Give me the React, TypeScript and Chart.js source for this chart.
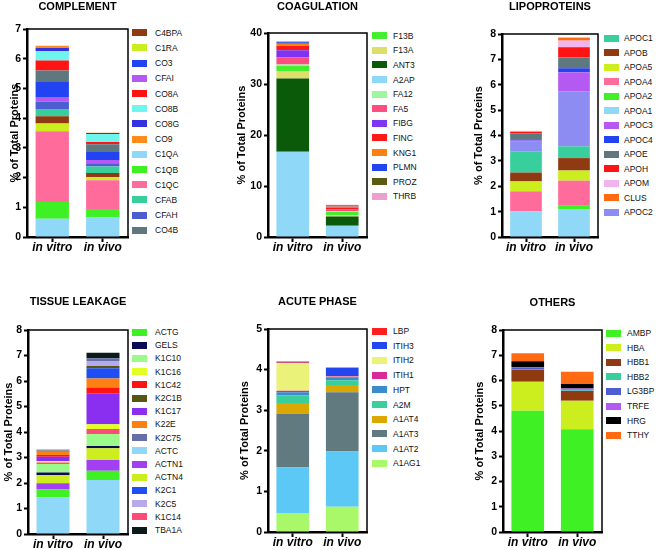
import React, { useEffect, useRef } from "react";
import { Chart, registerables } from "chart.js";
Chart.register(...registerables);

const FONT = "'Liberation Sans', Arial, Helvetica, sans-serif";

const categories = ["in vitro", "in vivo"];
const yAxisLabel = "% of Total Proteins";

// ---------- COMPLEMENT ----------
const complementProteins = ["C1QA", "C1QB", "C1QC", "C1RA", "C4BPA", "CFAB", "CFAH", "CFAI", "CO3", "CO4B", "CO8A", "CO8B", "CO8G", "CO9"];
const complementInVitro = [0.61, 0.57, 2.38, 0.26, 0.24, 0.25, 0.24, 0.16, 0.53, 0.36, 0.34, 0.31, 0.11, 0.08];
const complementInVivo = [0.66, 0.28, 0.97, 0.11, 0.13, 0.22, 0.11, 0.11, 0.27, 0.26, 0.08, 0.27, 0.03, 0.01];
const complementColors = ["#8fd8f8", "#3ef024", "#ff6b9a", "#cdee1e", "#8f3a10", "#38cf9c", "#4c5ed0", "#b45af2", "#2243f2", "#5f7880", "#ff1414", "#6ef6ee", "#3232e0", "#ff8c1a"];
const complementLegend = ["C4BPA", "C1RA", "CO3", "CFAI", "CO8A", "CO8B", "CO8G", "CO9", "C1QA", "C1QB", "C1QC", "CFAB", "CFAH", "CO4B"];

// ---------- COAGULATION ----------
const coagulationProteins = ["A2AP", "ANT3", "F13A", "F13B", "FA12", "FA5", "FIBG", "FINC", "KNG1", "PLMN", "PROZ", "THRB"];
const coagulationInVitro = [16.7, 14.4, 1.4, 1.1, 0.2, 1.4, 1.4, 0.9, 0.4, 0.3, 0.1, 0.1];
const coagulationInVivo = [2.2, 1.8, 0.3, 0.6, 0.2, 0.3, 0.1, 0.3, 0.2, 0.2, 0.05, 0.05];
const coagulationColors = ["#8fd8f8", "#0a5a0a", "#dede6a", "#46ee30", "#a0f5a0", "#ff4d80", "#8033f0", "#ff1a1a", "#ff8012", "#2246ee", "#5a5a14", "#eba0d0"];
const coagulationLegend = ["F13B", "F13A", "ANT3", "A2AP", "FA12", "FA5", "FIBG", "FINC", "KNG1", "PLMN", "PROZ", "THRB"];

// ---------- LIPOPROTEINS ----------
const lipoProteins = ["APOA1", "APOA2", "APOA4", "APOA5", "APOB", "APOC1", "APOC2", "APOC3", "APOC4", "APOE", "APOH", "APOM", "CLUS"];
const lipoInVitro = [1.0, 0.02, 0.78, 0.39, 0.35, 0.82, 0.42, 0.02, 0.05, 0.24, 0.06, 0.02, 0.01];
const lipoInVivo = [1.1, 0.13, 0.99, 0.4, 0.49, 0.46, 2.16, 0.76, 0.16, 0.43, 0.4, 0.26, 0.12];
const lipoColors = ["#8fd8f8", "#3ef024", "#ff6b9a", "#cdee1e", "#8f3a10", "#38cf9c", "#8c8cf2", "#b45af2", "#2243f2", "#5f7880", "#ff1414", "#f2b4ec", "#ff6a12"];
const lipoLegend = ["APOC1", "APOB", "APOA5", "APOA4", "APOA2", "APOA1", "APOC3", "APOC4", "APOE", "APOH", "APOM", "CLUS", "APOC2"];

// ---------- TISSUE LEAKAGE ----------
const tissueProteins = ["ACTC", "ACTG", "ACTN1", "ACTN4", "GELS", "K1C10", "K1C14", "K1C16", "K1C17", "K1C42", "K22E", "K2C1", "K2C1B", "K2C5", "K2C75", "TBA1A"];
const tissueInVitro = [1.44, 0.31, 0.24, 0.32, 0.1, 0.34, 0.05, 0.06, 0.17, 0.07, 0.13, 0.02, 0.01, 0.01, 0.01, 0.02];
const tissueInVivo = [2.12, 0.36, 0.42, 0.46, 0.09, 0.47, 0.2, 0.18, 1.22, 0.23, 0.35, 0.4, 0.09, 0.19, 0.11, 0.22];
const tissueColors = ["#8fd8f8", "#3ef024", "#a23ff2", "#cdee1e", "#0c0c55", "#9cfa8a", "#ff4a7a", "#e0ff22", "#8a2ef0", "#ff1414", "#ff8012", "#1f4ff2", "#555514", "#b8aaea", "#6570a8", "#0c1a1a"];
const tissueLegend = ["ACTG", "GELS", "K1C10", "K1C16", "K1C42", "K2C1B", "K1C17", "K22E", "K2C75", "ACTC", "ACTN1", "ACTN4", "K2C1", "K2C5", "K1C14", "TBA1A"];

// ---------- ACUTE PHASE ----------
const acuteProteins = ["A1AG1", "A1AT2", "A1AT3", "A1AT4", "A2M", "HPT", "ITIH1", "ITIH2", "ITIH3", "LBP"];
const acuteInVitro = [0.47, 1.12, 1.32, 0.27, 0.18, 0.08, 0.04, 0.68, 0.01, 0.03];
const acuteInVivo = [0.62, 1.36, 1.46, 0.18, 0.12, 0.07, 0.02, 0.01, 0.2, 0.01];
const acuteColors = ["#a8f86a", "#5cc8f6", "#617a80", "#dca800", "#38cf9c", "#3a8ccc", "#d92a9a", "#eaf27a", "#2446ee", "#ff2020"];
const acuteLegend = ["LBP", "ITIH3", "ITIH2", "ITIH1", "HPT", "A2M", "A1AT4", "A1AT3", "A1AT2", "A1AG1"];

// ---------- OTHERS ----------
const othersProteins = ["AMBP", "HBA", "HBB1", "HBB2", "LG3BP", "TRFE", "HRG", "TTHY"];
const othersInVitro = [4.8, 1.15, 0.49, 0.02, 0.04, 0.03, 0.23, 0.32];
const othersInVivo = [4.07, 1.13, 0.38, 0.02, 0.04, 0.04, 0.18, 0.49];
const othersColors = ["#3ef024", "#cdee1e", "#8f3a10", "#38cf9c", "#4c5ed0", "#b45af2", "#000000", "#ff6a12"];
const othersLegend = ["AMBP", "HBA", "HBB1", "HBB2", "LG3BP", "TRFE", "HRG", "TTHY"];

type Geom = {
  canvasLeft: number; canvasTop: number;
  left: number; right: number; top: number; bottom: number; xAxisH: number;
  yTitleX: number; titleY: number;
  legendBoxX: number; legendTextX: number; legendY0: number; legendDy: number;
};

type PanelSpec = {
  title: string; proteins: string[]; inVitro: number[]; inVivo: number[];
  colors: string[]; legend: string[]; yMax: number; yStep: number; geom: Geom;
};

const panels: PanelSpec[] = [
  { title: "COMPLEMENT", proteins: complementProteins, inVitro: complementInVitro, inVivo: complementInVivo, colors: complementColors, legend: complementLegend, yMax: 7, yStep: 1,
    geom: { canvasLeft: 0, canvasTop: 0, left: 27, right: 128, top: 29, bottom: 237, xAxisH: 25, yTitleX: 15, titleY: 7, legendBoxX: 132, legendTextX: 155, legendY0: 32.7, legendDy: 15.2 } },
  { title: "COAGULATION", proteins: coagulationProteins, inVitro: coagulationInVitro, inVivo: coagulationInVivo, colors: coagulationColors, legend: coagulationLegend, yMax: 40, yStep: 10,
    geom: { canvasLeft: 225, canvasTop: 0, left: 268, right: 367, top: 33, bottom: 237, xAxisH: 25, yTitleX: 242, titleY: 7, legendBoxX: 372, legendTextX: 393, legendY0: 35.7, legendDy: 14.6 } },
  { title: "LIPOPROTEINS", proteins: lipoProteins, inVitro: lipoInVitro, inVivo: lipoInVivo, colors: lipoColors, legend: lipoLegend, yMax: 8, yStep: 1,
    geom: { canvasLeft: 460, canvasTop: 0, left: 502, right: 598, top: 34, bottom: 237, xAxisH: 25, yTitleX: 479, titleY: 7, legendBoxX: 604, legendTextX: 624, legendY0: 38, legendDy: 14.5 } },
  { title: "TISSUE LEAKAGE", proteins: tissueProteins, inVitro: tissueInVitro, inVivo: tissueInVivo, colors: tissueColors, legend: tissueLegend, yMax: 8, yStep: 1,
    geom: { canvasLeft: 0, canvasTop: 285, left: 28, right: 128, top: 330, bottom: 534, xAxisH: 16, yTitleX: 9, titleY: 302, legendBoxX: 132, legendTextX: 155, legendY0: 332, legendDy: 13.2 } },
  { title: "ACUTE PHASE", proteins: acuteProteins, inVitro: acuteInVitro, inVivo: acuteInVivo, colors: acuteColors, legend: acuteLegend, yMax: 5, yStep: 1,
    geom: { canvasLeft: 225, canvasTop: 285, left: 268, right: 367, top: 329, bottom: 532, xAxisH: 18, yTitleX: 245, titleY: 302, legendBoxX: 372, legendTextX: 393, legendY0: 331, legendDy: 14.7 } },
  { title: "OTHERS", proteins: othersProteins, inVitro: othersInVitro, inVivo: othersInVivo, colors: othersColors, legend: othersLegend, yMax: 8, yStep: 1,
    geom: { canvasLeft: 460, canvasTop: 285, left: 503, right: 602, top: 330, bottom: 532, xAxisH: 18, yTitleX: 480, titleY: 303, legendBoxX: 606, legendTextX: 627, legendY0: 333, legendDy: 14.6 } },
];

const TITLE_SIZE = 11;
const YTITLE_SIZE = 11;

const framePlugin = {
  id: "frameBox",
  afterDraw(chart: any) {
    const { ctx, chartArea: a } = chart;
    ctx.save();
    ctx.strokeStyle = "#000";
    ctx.lineWidth = 1.5;
    ctx.beginPath();
    ctx.moveTo(a.left, a.top);
    ctx.lineTo(a.right, a.top);
    ctx.lineTo(a.right, a.bottom);
    ctx.stroke();
    ctx.restore();
  },
};

function Panel({ spec }: { spec: PanelSpec }) {
  const ref = useRef<HTMLCanvasElement>(null);
  const g = spec.geom;
  const cw = g.right + 3 - g.canvasLeft;
  const ch = g.bottom + g.xAxisH - g.canvasTop;

  useEffect(() => {
    const yw = g.left - g.canvasLeft;
    const tLH = TITLE_SIZE * 1.2;
    const tPadTop = g.titleY - g.canvasTop - tLH / 2;
    const tPadBottom = g.top - g.canvasTop - tPadTop - tLH;
    const yLH = YTITLE_SIZE * 1.2;
    const yPad = g.yTitleX - g.canvasLeft - yLH / 2;

    const chart = new Chart(ref.current as HTMLCanvasElement, {
      type: "bar",
      data: {
        labels: categories,
        datasets: spec.proteins.map((p, i) => ({
          label: p,
          data: [spec.inVitro[i], spec.inVivo[i]],
          backgroundColor: spec.colors[i],
          borderWidth: 0,
          barPercentage: 0.66,
          categoryPercentage: 1,
        })),
      },
      options: {
        responsive: false,
        animation: false,
        devicePixelRatio: 1,
        layout: { padding: { left: 0, right: 3, top: 0, bottom: 0 } },
        plugins: {
          legend: { display: false },
          tooltip: { enabled: false },
          title: {
            display: true,
            text: spec.title,
            fullSize: false,
            align: "center",
            color: "#000",
            font: { family: FONT, size: TITLE_SIZE, weight: "bold" },
            padding: { top: tPadTop, bottom: tPadBottom },
          },
        },
        scales: {
          x: {
            stacked: true,
            grid: { display: true, drawOnChartArea: false, drawTicks: true, tickLength: 5, tickWidth: 2, tickColor: "#000", offset: false },
            border: { display: true, color: "#000", width: 2.5 },
            ticks: { color: "#000", font: { family: FONT, size: 12, weight: "bold", style: "italic" }, padding: -1.5, maxRotation: 0, autoSkip: false },
            afterFit: (s: any) => { s.height = g.xAxisH; },
          },
          y: {
            stacked: true,
            min: 0,
            max: spec.yMax,
            grid: { display: true, drawOnChartArea: false, drawTicks: true, tickLength: 4, tickWidth: 2, tickColor: "#000" },
            border: { display: true, color: "#000", width: 2.5 },
            ticks: { stepSize: spec.yStep, color: "#000", font: { family: FONT, size: 10.5, weight: "bold" }, padding: 2 },
            title: { display: true, text: yAxisLabel, color: "#000", font: { family: FONT, size: YTITLE_SIZE, weight: "bold" }, padding: { top: yPad, bottom: 0 } },
            afterFit: (s: any) => { s.width = yw; },
          },
        },
      } as any,
      plugins: [framePlugin],
    });
    return () => chart.destroy();
  }, []);

  return (
    <>
      <canvas ref={ref} width={cw} height={ch}
        style={{ position: "absolute", left: g.canvasLeft, top: g.canvasTop, width: cw, height: ch }} />
      {spec.legend.map((name, i) => {
        const idx = spec.proteins.indexOf(name);
        const y = g.legendY0 + i * g.legendDy;
        return (
          <React.Fragment key={name}>
            <div style={{ position: "absolute", left: g.legendBoxX, top: y - 3.5, width: 15, height: 7, background: spec.colors[idx] }} />
            <div style={{ position: "absolute", left: g.legendTextX, top: y - 6, height: 12, lineHeight: "12px", fontSize: 8.5, fontFamily: FONT, color: "#111", whiteSpace: "nowrap" }}>{name}</div>
          </React.Fragment>
        );
      })}
    </>
  );
}

export default function App() {
  return (
    <div style={{ position: "absolute", left: 0, top: 0, width: 661, height: 550, background: "#fff", overflow: "hidden" }}>
      {panels.map((p) => <Panel key={p.title} spec={p} />)}
    </div>
  );
}
